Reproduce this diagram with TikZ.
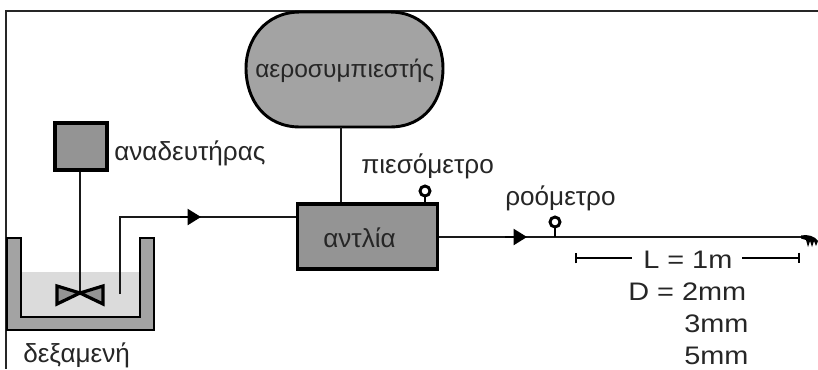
\documentclass[tikz,border=0pt]{standalone}
\usepackage{fontspec}
\setmainfont{Liberation Sans}
\newfontfamily\widefont[FakeStretch=1.14]{Liberation Sans}
\usetikzlibrary{arrows.meta}
\definecolor{fillA}{gray}{0.58}
\definecolor{fillB}{gray}{0.64}
\definecolor{water}{gray}{0.86}
\tikzset{
  px/.style={x=0.75pt,y=-0.75pt},
  thick line/.style={line width=2.2pt,black!90},
  lab/.style={inner sep=0pt,anchor=base west,font=\fontsize{19.6pt}{22pt}\selectfont,text=black!85},
  numlab/.style={inner sep=0pt,anchor=base west,font=\widefont\fontsize{19pt}{22pt}\selectfont,text=black!85},
  flowtip/.style={-{Triangle[length=10pt,width=12pt]}},
  gauge/.style={circle,draw=black,line width=2.2pt,fill=white,minimum size=7.5pt,inner sep=0pt}
}
\begin{document}
\begin{tikzpicture}[px]
\useasboundingbox (0,0) rectangle (818,369);
\fill[white] (0,0) rectangle (818,369);
% frame
\coordinate (frTL) at (6,11);
\coordinate (frTR) at (818,11);
\coordinate (frBL) at (6,369);
\draw[line width=1.4pt,black!85] (frTR) -- (frTL) -- (frBL);
% tank
\fill[water] (21,272) rectangle (140,317);
\draw[line width=2pt,fill=fillB] (7,238) -- (21,238) -- (21,317) -- (140,317) -- (140,238) -- (154,238) -- (154,330) -- (7,330) -- cycle;
% stirrer
\node[draw=black,line width=2.6pt,fill=fillA,minimum width=39pt,minimum height=35pt,inner sep=0pt] (stir) at (81,146.5) {};
\coordinate (hub) at (80,293);
\draw[thick line] (stir.south -| hub) -- (hub);
\draw[line width=2.4pt,fill=fillA,line join=miter] (hub) -- (57,286) -- (57,304) -- cycle;
\draw[line width=2.4pt,fill=fillA,line join=miter] (hub) -- (103,286) -- (103,304) -- cycle;
% compressor
\draw[line width=2.2pt,fill=fillB] (300,12) -- (390,12) .. controls (425,12) and (443,40) .. (443,68) .. controls (443,100) and (425,127) .. (390,127) -- (300,127) .. controls (265,127) and (246,100) .. (246,68) .. controls (246,40) and (265,12) .. (300,12) -- cycle;
\node[lab,font=\fontsize{18.4pt}{22pt}\selectfont] (compt) at (255,77) {αεροσυμπιεστής};
\coordinate (compB) at (341,127);
% pump
\node[draw=black,line width=2.6pt,fill=fillA,minimum width=105pt,minimum height=49pt,inner sep=0pt] (pump) at (367.5,236.5) {};
\node[lab] (pumpt) at (323,247) {αντλία};
\draw[thick line] (compB) -- (compB |- pump.north);
% inlet pipe
\coordinate (pipeEnd) at (120,294);
\coordinate (pipeBend) at (120,217);
\draw[thick line] (pipeEnd) -- (pipeBend) -- (pump.west |- pipeBend);
\coordinate (ar1) at (201,217);
\draw[flowtip,line width=1.5pt] (180,217) -- (ar1);
% outlet line
\coordinate (lineEnd) at (802,237);
\draw[thick line] (pump.east |- lineEnd) -- (lineEnd);
\coordinate (ar2) at (527,237);
\draw[flowtip,line width=1.5pt] (505,237) -- (ar2);
% gauges
\node[gauge] (g1) at (425,191) {};
\draw[line width=2pt] (g1.south) -- (g1.south |- pump.north);
\node[gauge] (g2) at (555,222) {};
\draw[line width=2pt] (g2.south) -- (g2.south |- lineEnd);
% nozzle
\fill[black] (801,235.5) .. controls (807,234) and (815,236) .. (818,241) -- (816,246) -- (814,241) -- (812,247) -- (810,241) -- (808,247) -- (806,240) -- (801,238.5) -- cycle;
% labels
\node[lab] (t1) at (114,160) {αναδευτήρας};
\node[lab] (t2) at (23,362) {δεξαμενή};
\node[lab] (t3) at (361,173) {πιεσόμετρο};
\node[lab] (t4) at (505,205) {ροόμετρο};
% dimension
\node[numlab] (L) at (643,268) {L = 1m};
\coordinate (dl) at (575,258);
\coordinate (dr) at (800,258);
\coordinate (dli) at (632,258);
\coordinate (dri) at (742,258);
\draw[line width=1.3pt,|-] (dl) -- (dli);
\draw[line width=1.3pt,-|] (dri) -- (dr);
\node[numlab] (D) at (628,300) {D = 2mm};
\node[numlab] (d3) at (684,332) {3mm};
\node[numlab] (d5) at (684,364) {5mm};
\end{tikzpicture}
\end{document}
